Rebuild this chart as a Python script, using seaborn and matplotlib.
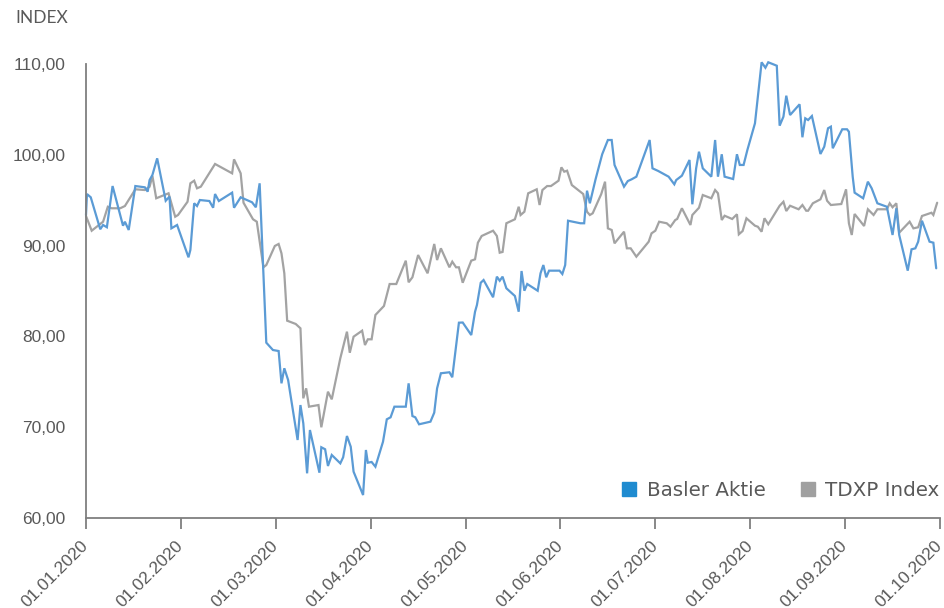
import numpy as np
import pandas as pd
import matplotlib
matplotlib.use("Agg")
import matplotlib.pyplot as plt
import seaborn as sns
from matplotlib.lines import Line2D

# ---- data (x = months since 01.01.2020, y = index value) ----
basler_t = [0.00, 0.01, 0.05, 0.15, 0.18, 0.22, 0.28, 0.39, 0.41, 0.45, 0.52, 0.62, 0.65, 0.67, 0.70, 0.75,
            0.84, 0.88, 0.90, 0.96, 1.08, 1.10, 1.14, 1.17, 1.20, 1.30, 1.34, 1.36, 1.40, 1.54, 1.56, 1.63,
            1.75, 1.79, 1.83, 1.90, 1.97, 2.03, 2.06, 2.09, 2.13, 2.23, 2.26, 2.29, 2.33, 2.36, 2.46, 2.48,
            2.52, 2.55, 2.59, 2.68, 2.71, 2.75, 2.79, 2.82, 2.92, 2.95, 2.97, 3.01, 3.05, 3.13, 3.17, 3.21,
            3.25, 3.37, 3.40, 3.44, 3.47, 3.51, 3.63, 3.67, 3.70, 3.74, 3.83, 3.86, 3.93, 3.97, 4.06, 4.10,
            4.12, 4.16, 4.19, 4.29, 4.33, 4.36, 4.39, 4.43, 4.52, 4.56, 4.59, 4.62, 4.65, 4.76, 4.79, 4.82,
            4.85, 4.88, 4.99, 5.02, 5.05, 5.08, 5.21, 5.25, 5.28, 5.31, 5.37, 5.44, 5.50, 5.54, 5.57, 5.67,
            5.71, 5.75, 5.80, 5.94, 5.97, 6.03, 6.14, 6.20, 6.22, 6.28, 6.36, 6.39, 6.43, 6.46, 6.50, 6.59,
            6.63, 6.66, 6.70, 6.73, 6.82, 6.86, 6.89, 6.93, 6.97, 7.05, 7.12, 7.16, 7.19, 7.28, 7.31, 7.35,
            7.38, 7.42, 7.52, 7.55, 7.58, 7.61, 7.65, 7.74, 7.78, 7.82, 7.85, 7.87, 7.97, 8.02, 8.04, 8.08,
            8.10, 8.19, 8.24, 8.28, 8.34, 8.44, 8.50, 8.54, 8.57, 8.66, 8.70, 8.74, 8.77, 8.81, 8.89, 8.93,
            8.96]
basler_v = [93.37, 95.68, 95.32, 91.80, 92.27, 92.02, 96.56, 92.19, 92.63, 91.72, 96.56, 96.42, 95.94, 97.22, 97.78, 99.61,
            94.94, 95.39, 91.90, 92.27, 88.71, 89.52, 94.66, 94.36, 95.02, 94.91, 94.17, 95.68, 94.91, 95.83, 94.17, 95.32,
            94.77, 94.22, 96.86, 79.31, 78.50, 78.39, 74.83, 76.49, 75.20, 68.59, 72.44, 70.43, 64.92, 69.69, 64.99, 67.79,
            67.57, 65.73, 66.94, 66.02, 66.69, 69.03, 67.85, 65.10, 62.53, 67.49, 66.09, 66.17, 65.65, 68.40, 70.87, 71.09,
            72.26, 72.26, 74.83, 71.23, 71.09, 70.32, 70.61, 71.60, 74.28, 75.94, 76.05, 75.50, 81.51, 81.53, 80.15, 82.72,
            83.46, 85.91, 86.21, 84.31, 86.58, 86.13, 86.58, 85.30, 84.45, 82.72, 87.20, 85.03, 85.77, 85.03, 86.95, 87.86,
            86.51, 87.24, 87.24, 86.87, 87.86, 92.74, 92.46, 92.46, 96.05, 94.66, 97.30, 100.06, 101.63, 101.63, 98.88, 96.49,
            97.11, 97.30, 97.59, 101.63, 98.51, 98.22, 97.59, 96.75, 97.22, 97.70, 99.43, 94.55, 98.51, 100.34, 98.51, 97.59,
            101.63, 97.59, 100.06, 97.59, 97.33, 100.06, 98.88, 98.88, 100.53, 103.47, 110.19, 109.59, 110.19, 109.81, 103.21, 104.20,
            106.51, 104.38, 105.56, 101.93, 104.02, 103.83, 104.27, 100.09, 100.89, 102.92, 103.10, 100.72, 102.81, 102.81, 102.54, 97.59,
            95.83, 95.21, 97.04, 96.31, 94.66, 94.28, 91.17, 94.11, 91.17, 87.24, 89.59, 89.70, 90.43, 92.74, 90.43, 90.32,
            87.50]

tdxp_t = [0.00, 0.06, 0.18, 0.23, 0.27, 0.36, 0.41, 0.52, 0.62, 0.67, 0.70, 0.74, 0.87, 0.94, 0.97, 1.07,
          1.10, 1.14, 1.17, 1.21, 1.36, 1.54, 1.56, 1.63, 1.66, 1.76, 1.80, 1.87, 1.90, 1.99, 2.03, 2.06,
          2.09, 2.12, 2.21, 2.26, 2.29, 2.32, 2.35, 2.45, 2.48, 2.55, 2.59, 2.68, 2.75, 2.78, 2.82, 2.91,
          2.94, 2.97, 3.01, 3.05, 3.14, 3.20, 3.27, 3.37, 3.40, 3.44, 3.50, 3.60, 3.67, 3.70, 3.74, 3.83,
          3.86, 3.90, 3.93, 3.97, 4.06, 4.10, 4.13, 4.17, 4.29, 4.33, 4.36, 4.39, 4.43, 4.52, 4.56, 4.58,
          4.62, 4.66, 4.75, 4.78, 4.81, 4.86, 4.90, 4.98, 5.01, 5.04, 5.07, 5.12, 5.24, 5.28, 5.31, 5.34,
          5.43, 5.47, 5.50, 5.54, 5.57, 5.67, 5.70, 5.74, 5.80, 5.93, 5.96, 6.00, 6.04, 6.12, 6.16, 6.21,
          6.23, 6.28, 6.37, 6.39, 6.46, 6.50, 6.59, 6.63, 6.66, 6.70, 6.73, 6.81, 6.86, 6.88, 6.92, 6.96,
          7.05, 7.08, 7.12, 7.15, 7.19, 7.31, 7.35, 7.38, 7.42, 7.51, 7.55, 7.59, 7.61, 7.66, 7.74, 7.78,
          7.81, 7.85, 7.96, 8.01, 8.04, 8.07, 8.10, 8.20, 8.24, 8.30, 8.34, 8.44, 8.47, 8.50, 8.54, 8.57,
          8.68, 8.72, 8.77, 8.81, 8.91, 8.93, 8.97]
tdxp_v = [93.26, 91.64, 92.63, 94.28, 94.11, 94.11, 94.36, 96.20, 96.12, 96.49, 97.67, 95.21, 95.76, 93.18, 93.37, 94.83,
          96.86, 97.15, 96.31, 96.49, 98.99, 97.96, 99.50, 97.96, 94.72, 92.90, 92.63, 87.61, 87.86, 89.96, 90.18, 89.15,
          86.95, 81.73, 81.37, 80.89, 73.18, 74.28, 72.26, 72.44, 69.99, 73.91, 73.07, 77.59, 80.52, 78.20, 79.97, 80.63,
          79.05, 79.68, 79.68, 82.36, 83.35, 85.77, 85.77, 88.34, 85.96, 86.51, 88.96, 86.95, 90.18, 88.41, 89.70, 87.61,
          88.23, 87.61, 87.61, 85.91, 88.34, 88.49, 90.32, 91.06, 91.64, 91.06, 89.22, 89.30, 92.46, 92.90, 94.28, 93.37,
          93.73, 95.76, 96.20, 94.47, 96.12, 96.56, 96.56, 97.15, 98.62, 98.14, 98.25, 96.67, 95.68, 93.73, 93.37, 93.56,
          95.68, 97.04, 91.90, 91.72, 90.25, 91.53, 89.70, 89.70, 88.78, 90.43, 91.35, 91.64, 92.63, 92.46, 92.08, 92.82,
          92.93, 94.11, 92.27, 93.37, 94.17, 95.57, 95.21, 96.12, 95.76, 92.82, 93.29, 92.93, 93.45, 91.24, 91.61, 93.01,
          92.19, 92.08, 91.53, 93.01, 92.35, 94.39, 94.83, 93.81, 94.39, 94.00, 94.47, 93.84, 93.84, 94.66, 95.10, 96.12,
          94.94, 94.47, 94.58, 96.20, 92.46, 91.17, 93.48, 92.16, 94.00, 93.37, 94.00, 94.00, 94.66, 94.22, 94.66, 91.42,
          92.63, 91.90, 92.02, 93.26, 93.62, 93.37, 94.72]

series_names = ["Basler Aktie", "TDXP Index"]
tick_labels = ["01.01.2020", "01.02.2020", "01.03.2020", "01.04.2020", "01.05.2020",
               "01.06.2020", "01.07.2020", "01.08.2020", "01.09.2020", "01.10.2020"]
y_ticks = [60, 70, 80, 90, 100, 110]

line_colors = {"Basler Aktie": "#5b9bd5", "TDXP Index": "#a3a3a3"}
legend_colors = {"Basler Aktie": "#1f8bd0", "TDXP Index": "#a0a0a0"}

df = pd.concat([
    pd.DataFrame({"t": basler_t, "value": basler_v, "series": series_names[0]}),
    pd.DataFrame({"t": tdxp_t, "value": tdxp_v, "series": series_names[1]}),
], ignore_index=True)

sns.set_theme(style="white")
plt.rcParams["font.family"] = ["Liberation Sans", "DejaVu Sans"]

fig = plt.figure(figsize=(9.44, 6.08), dpi=100)
ax = fig.add_axes([86/944, 1 - 518/608, 854/944, 454/608])

# draw TDXP first so Basler sits on top
sns.lineplot(data=df, x="t", y="value", hue="series", hue_order=series_names[::-1],
             palette=line_colors, estimator=None, sort=False, linewidth=1.6,
             legend=False, ax=ax)
for ln in ax.lines:
    ln.set_clip_on(False)
    ln.set_solid_joinstyle("miter")

ax.set_xlim(0, 9)
ax.set_ylim(60, 110)
ax.set_xlabel("")
ax.set_ylabel("")

ax.set_xticks(range(len(tick_labels)))
ax.set_xticklabels(tick_labels, rotation=45, ha="right", va="center",
                   rotation_mode="anchor", fontsize=12.5, color="#595959")
ax.set_yticks(y_ticks)
ax.set_yticklabels([f"{v:.2f}".replace(".", ",") for v in y_ticks],
                   fontsize=12.5, color="#595959")
ax.set_yticks([60], minor=True)

ax.tick_params(axis="x", which="major", length=8, width=1.3, color="#7f7f7f",
               direction="out", pad=10, bottom=True)
ax.tick_params(axis="y", which="major", length=0, pad=15, left=False)
ax.tick_params(axis="y", which="minor", length=9, width=1.3, color="#7f7f7f",
               direction="out", left=True)

for side in ["top", "right"]:
    ax.spines[side].set_visible(False)
for side in ["left", "bottom"]:
    ax.spines[side].set_color("#7f7f7f")
    ax.spines[side].set_linewidth(1.3)
ax.grid(False)

handles = [Line2D([0], [0], marker="s", linestyle="none", markersize=10.5,
                  markerfacecolor=legend_colors[n], markeredgecolor=legend_colors[n])
           for n in series_names]
leg = ax.legend(handles, series_names, loc="lower right", bbox_to_anchor=(1.02, 0.0),
                ncol=2, frameon=False, handlelength=0.75, handletextpad=0.5,
                columnspacing=1.75, borderpad=0.4,
                prop={"family": ["DejaVu Sans"], "size": 14.3})
for txt in leg.get_texts():
    txt.set_color("#595959")

fig.text(15/944, 1 - 18/608, "INDEX", ha="left", va="center",
         fontsize=12.5, color="#595959", family=["Lato", "DejaVu Sans"])

fig.savefig("out.png", dpi=100, facecolor="white")
